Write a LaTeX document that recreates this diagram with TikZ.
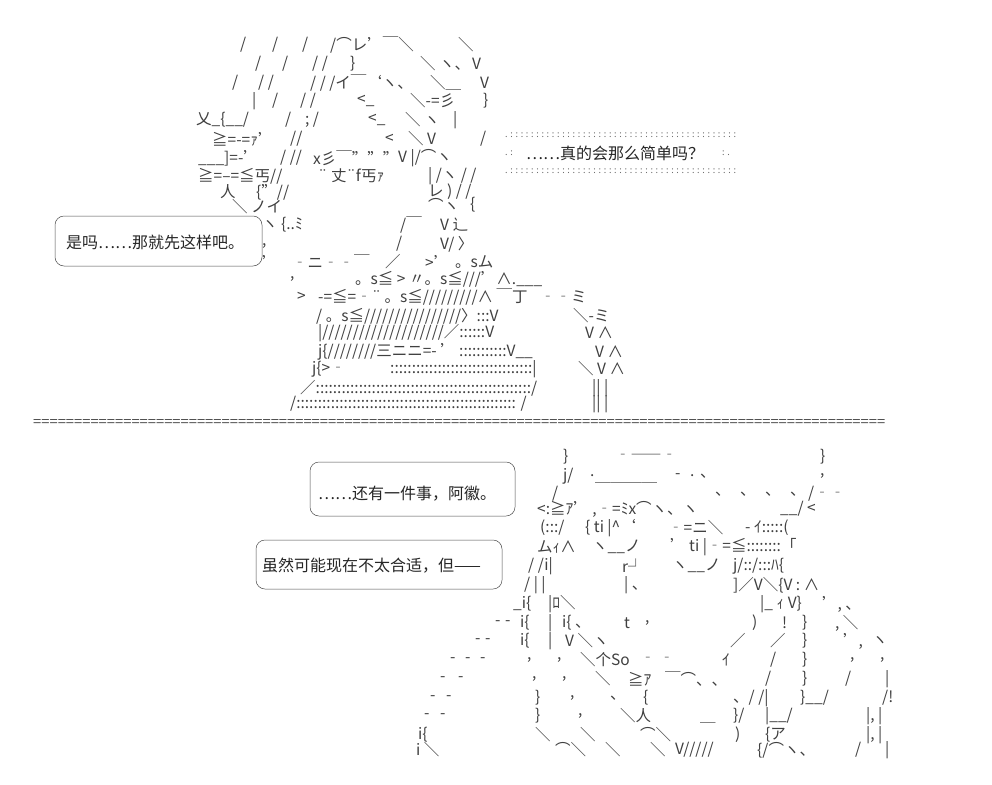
\documentclass[tikz,border=0pt]{standalone}
\usepackage{fontspec}
\setmainfont{Noto Sans CJK SC}
\tikzset{art/.style={anchor=west,inner sep=0pt,text=black!75,font=\fontsize{15.5}{15.5}\selectfont},
dots/.style={anchor=west,inner sep=0pt,text=black!60,font=\fontsize{9}{9}\selectfont},
bub/.style={draw=black!70,line width=0.5pt,rounded corners=9pt},
say/.style={anchor=west,inner sep=0pt,text=black!85,font=\fontsize{16}{16}\selectfont}}
\newcommand\artl[3]{\node[art] at (#1,#2) {#3};}
\begin{document}
\begin{tikzpicture}[x=1pt,y=-1pt]
\useasboundingbox[fill=white] (0,0) rectangle (992,784);
% ---------- top figure ----------
\artl{240}{45}{/}\artl{272}{45}{/}\artl{302}{45}{/}\artl{330}{45}{/⌒レ'￣＼}\artl{458}{45}{＼}
\artl{255}{64}{/}\artl{282}{64}{/}\artl{312}{64}{/ /}\artl{350}{64}{\}}\artl{420}{64}{＼ ヽ、}\artl{472}{64}{V}
\artl{232}{83}{/}\artl{258}{83}{/ /}\artl{310}{83}{/ / /イ￣`ヽ、}\artl{430}{83}{＼＿}\artl{480}{83}{V}
\artl{252}{101}{|}\artl{272}{101}{/}\artl{300}{101}{/ /}\artl{357}{101}{<\_}\artl{410}{101}{＼-=彡}\artl{483}{101}{\}}
\artl{196}{120}{乂\_\{\_\_/}\artl{285}{120}{/}\artl{305}{120}{; /}\artl{368}{120}{<\_}\artl{405}{120}{＼ ヽ}\artl{453}{120}{|}
\artl{212}{139}{≧=-=ｧ'}\artl{290}{139}{//}\artl{385}{139}{<}\artl{408}{139}{＼ V}\artl{480}{139}{/}
\artl{198}{158}{\_\_\_]=-'}\artl{280}{158}{/ //}\artl{313}{158}{x彡￣''''''}\artl{398}{158}{V |/⌒ヽ}
\artl{198}{176}{≧=--=≦丐//}\artl{318}{176}{¨ 丈¨f丐ｧ}\artl{428}{176}{| /ヽ  /  /}
\artl{220}{192}{人}\artl{256}{192}{\{"//}\artl{428}{192}{レ ) /  /}
\artl{232}{207}{＼ ノイ}\artl{428}{205}{⌒ヽ}\artl{470}{205}{\{}
\artl{262}{225}{ヽ  \{..ﾐ}\artl{400}{225}{/￣}\artl{440}{225}{V 辶}
\artl{262}{246}{,}\artl{396}{244}{/}\artl{440}{244}{V/ 〉}
\artl{262}{262}{'}\artl{292}{262}{‐ニ‐‐￣}\artl{385}{262}{／}\artl{425}{262}{>'}\artl{455}{262}{。sム}
\artl{290}{279}{,}\artl{355}{279}{。s≦ > 〃。s≦///'∧.\_\_\_}
\artl{297}{297}{>}\artl{318}{297}{-=≦=‐¨ 。s≦/////////∧ ￣丁}\artl{540}{297}{‐‐ミ}
\artl{316}{316}{/  。s≦////////////////〉:::V}\artl{573}{316}{＼-ミ}
\artl{318}{333}{|////////////////////／::::::V}\artl{585}{333}{V ∧}
\artl{318}{352}{j\{////////三ニニ=-  ' :::::::::::V\_\_}\artl{595}{352}{V ∧}
\artl{312}{369}{j\{>‐}\artl{390}{369}{:::::::::::::::::::::::::::::::::|}\artl{578}{369}{＼ V ∧}
\artl{300}{388}{／::::::::::::::::::::::::::::::::::::::::::::::::::/}\artl{592}{388}{||   |}
\artl{290}{404}{/::::::::::::::::::::::::::::::::::::::::::::::::::: /}\artl{592}{404}{||   |}
% left bubble
\draw[bub] (55,216) rectangle (262,266);
\node[say] (t1) at (66,242) {是吗……那就先这样吧。};
% dotted bubble
\node[dots] (d1) at (505,135) {. : : : : : : : : : : : : : : : : : : : : : : : : : : : : : : : : : : : : : : : : : : : :};
\node[dots] (d2) at (505,171) {. : : : : : : : : : : : : : : : : : : : : : : : : : : : : : : : : : : : : : : : : : : : :};
\node[dots] (d3) at (505,153) {. :};\node[dots] (d4) at (722,153) {: .};
\node[say] (t2) at (526,153) {……真的会那么简单吗？};
% separator
\node[anchor=west,inner sep=0pt,text=black!75] (sep) at (33,423) {\resizebox{852pt}{7pt}{========================================================================================================}};
% ---------- bottom figure ----------
\artl{563}{457}{\}}\artl{615}{457}{‐――‐}\artl{820}{457}{\}}
\artl{563}{476}{j/}\artl{590}{476}{.}\artl{675}{476}{-}\artl{690}{476}{.}\artl{700}{476}{、}\artl{820}{476}{,}
\artl{552}{494}{/}\artl{595}{490}{￣￣￣￣}\artl{715}{494}{、}\artl{740}{494}{、}\artl{765}{494}{、}\artl{790}{494}{、}\artl{808}{494}{/‐‐}
\artl{537}{509}{<:≧ｱ' ,‐=ﾐx⌒ヽ、ヽ}\artl{780}{509}{\_\_/ <}
\artl{540}{528}{(:::/}\artl{585}{528}{\{  ti |\^{}`}\artl{668}{528}{‐=ニ＼}\artl{745}{528}{- ｲ:::::(}
\artl{537}{547}{ムｨ∧}\artl{592}{547}{ヽ\_\_ノ}\artl{670}{547}{' ti  |‐=≦::::::::「}
\artl{528}{566}{/  /i|}\artl{622}{566}{r┘}\artl{672}{566}{ヽ\_\_ノ}\artl{733}{566}{j/::/:::ﾊ\{}
\artl{524}{585}{/   | |}\artl{624}{585}{|  、}\artl{733}{585}{]／V＼\{V : ∧}
\artl{513}{604}{\_i\{}\artl{548}{604}{|ﾛ＼}\artl{760}{604}{|\_ ｨ V\}}\artl{822}{604}{',  、}
\artl{495}{623}{-}\artl{505}{623}{-}\artl{520}{623}{i\{}\artl{548}{623}{|}\artl{562}{623}{i\{ 、}\artl{624}{623}{t}\artl{645}{623}{,}
\artl{752}{623}{)}\artl{782}{623}{!}\artl{802}{623}{\}}\artl{835}{623}{,  ＼}
\artl{475}{641}{-}\artl{485}{641}{-}\artl{520}{641}{i\{}\artl{548}{641}{|}\artl{565}{641}{V ＼ヽ}
\artl{730}{641}{／}\artl{770}{641}{／}\artl{802}{641}{\}}\artl{843}{641}{',}\artl{872}{641}{ヽ}
\artl{450}{660}{-}\artl{465}{660}{-}\artl{480}{660}{-}\artl{527}{660}{,}\artl{557}{660}{,}\artl{580}{660}{＼个So}\artl{640}{660}{‐ ‐}
\artl{722}{660}{ｲ}\artl{770}{660}{/}\artl{802}{660}{\}}\artl{850}{660}{,}\artl{880}{660}{,}
\artl{440}{679}{-}\artl{458}{679}{-}\artl{532}{679}{,}\artl{562}{679}{,}\artl{595}{679}{＼}\artl{628}{679}{≧ｱ}\artl{665}{679}{￣⌒、、}
\artl{765}{679}{/}\artl{802}{679}{\}}\artl{845}{679}{/}\artl{885}{679}{|}
\artl{430}{698}{-}\artl{446}{698}{-}\artl{535}{698}{\}}\artl{570}{698}{,}\artl{610}{698}{、}\artl{643}{698}{\{}\artl{733}{698}{、/ /|}\artl{800}{698}{\}\_\_/}\artl{882}{698}{/!}
\artl{424}{716}{-}\artl{440}{716}{-}\artl{535}{716}{\}}\artl{578}{716}{,}\artl{620}{716}{＼人}\artl{733}{716}{\}/}\artl{765}{716}{|\_\_/}\artl{866}{716}{|, |}
\artl{418}{735}{i\{}\artl{535}{735}{＼}\artl{580}{735}{＼}\artl{640}{735}{⌒＼}\artl{700}{730}{￣}\artl{735}{735}{)}\artl{765}{735}{\{ア}\artl{866}{735}{|,  |}
\artl{416}{750}{i ＼}\artl{555}{750}{⌒＼}\artl{605}{750}{＼}\artl{650}{750}{＼}\artl{675}{750}{V/////}\artl{757}{750}{\{/⌒ヽ、}\artl{855}{750}{/}\artl{885}{750}{|}
% bubbles bottom
\draw[bub] (310,462) rectangle (515,516);
\node[say] (t3) at (318,494) {……还有一件事，阿徽。};
\draw[bub] (256,540) rectangle (502,589);
\node[say] (t4) at (262,566) {虽然可能现在不太合适，但——};
\end{tikzpicture}
\end{document}
